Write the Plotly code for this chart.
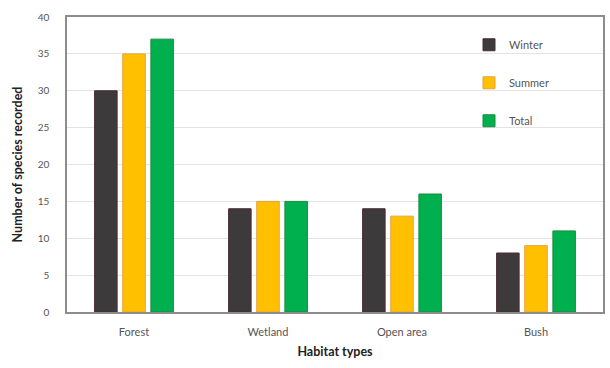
import plotly.graph_objects as go

habitats = ["Forest", "Wetland", "Open area", "Bush"]
winter = [30, 14, 14, 8]
summer = [35, 15, 13, 9]
total = [37, 15, 16, 11]

series = [
    ("Winter", winter, "#3d3a3c", "#4a2a30"),
    ("Summer", summer, "#ffc000", "#e8a040"),
    ("Total", total, "#00b04f", "#1a8a40"),
]

fig = go.Figure()
for i, (name, vals, color, edge) in enumerate(series):
    fig.add_trace(go.Bar(
        x=habitats, y=vals, name=name, legendgroup=f"g{i}",
        marker=dict(color=color, line=dict(color=edge, width=1)),
    ))

font = "Lato, 'Open Sans', sans-serif"
fig.update_layout(
    width=610, height=368,
    margin=dict(l=67, r=5, t=17, b=56),
    paper_bgcolor="white", plot_bgcolor="white",
    barmode="group", bargap=0.37, bargroupgap=0.2,
    font=dict(family=font, size=11, color="#555555"),
    showlegend=True,
    legend=dict(
        x=0.75, y=0.955, xanchor="left", yanchor="top",
        traceorder="grouped", tracegroupgap=19,
        font=dict(size=11, color="#555555"),
        bgcolor="rgba(0,0,0,0)", itemwidth=30,
    ),
    xaxis=dict(
        showline=True, linecolor="#8c8c8c", linewidth=1.5, mirror=True,
        ticks="", ticklabelstandoff=9, tickfont=dict(size=11, color="#555555"),
        title=dict(text="<b>Habitat types</b>", font=dict(size=12.5, color="#222222"), standoff=10),
    ),
    yaxis=dict(
        range=[0, 40], dtick=5, showgrid=True, gridcolor="#e3e3e3", gridwidth=1,
        showline=True, linecolor="#8c8c8c", linewidth=1.5, mirror=True,
        ticks="", ticklabelstandoff=14, tickfont=dict(size=10, color="#555555"),
        zeroline=False,
        title=dict(text="<b>Number of species recorded</b>", font=dict(size=12.5, color="#222222"), standoff=12),
    ),
)

fig.write_html("out.html")
